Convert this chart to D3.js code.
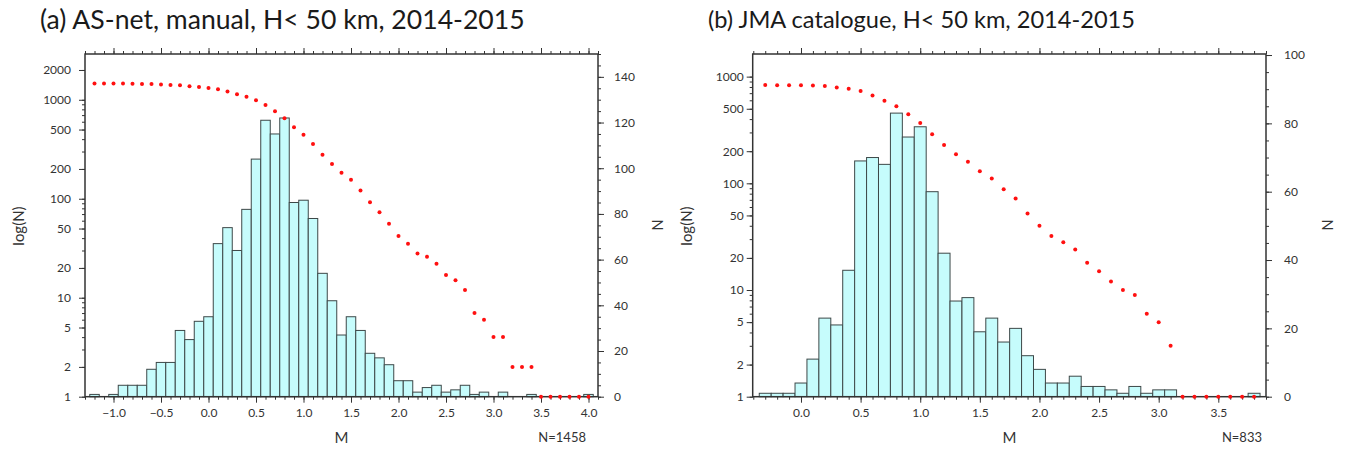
<!DOCTYPE html>
<html><head><meta charset="utf-8">
<script src="https://cdn.jsdelivr.net/npm/d3@7"></script>
<style>body{margin:0;background:#fff}text{font-family:Lato,"Open Sans",sans-serif}</style>
</head><body><svg id="c" width="1346" height="455"></svg>
<script>
// ---------- Panel (a): AS-net ----------
const binsA = [-1.2,-1.1,-1.0,-0.9,-0.8,-0.7,-0.6,-0.5,-0.4,-0.3,-0.2,-0.1,0.0,0.1,0.2,0.3,0.4,0.5,0.6,0.7,0.8,0.9,1.0,1.1,1.2,1.3,1.4,1.5,1.6,1.7,1.8,1.9,2.0,2.1,2.2,2.3,2.4,2.5,2.6,2.7,2.8,2.9,3.0,3.1,3.2,3.3,3.4,3.5,3.6,3.7,3.8,3.9,4.0];
const countsA = [1,0,1,5,5,5,12,15,15,29,25,33,35,67,74,64,82,104,121,115,122,85,86,78,54,42,27,35,29,19,17,14,7,7,2,4,5,2,3,5,1,2,0,2,0,0,1,0,0,0,0,0,1];
const cumA = [1458,1457,1457,1456,1451,1446,1441,1429,1414,1399,1370,1345,1312,1277,1210,1136,1072,990,886,765,650,528,443,357,279,225,183,156,121,92,73,56,42,35,28,26,22,17,15,12,7,6,4,4,2,2,2,1,1,1,1,1,1];
const xTicksA = [-1.0,-0.5,0.0,0.5,1.0,1.5,2.0,2.5,3.0,3.5,4.0];
const logTicksA = [1,2,5,10,20,50,100,200,500,1000,2000];
const rTicksA = [0,20,40,60,80,100,120,140];
const titleA = "(a) AS-net, manual, H< 50 km, 2014-2015";
const nLabelA = "N=1458";

// ---------- Panel (b): JMA ----------
const binsB = [-0.3,-0.2,-0.1,0.0,0.1,0.2,0.3,0.4,0.5,0.6,0.7,0.8,0.9,1.0,1.1,1.2,1.3,1.4,1.5,1.6,1.7,1.8,1.9,2.0,2.1,2.2,2.3,2.4,2.5,2.6,2.7,2.8,2.9,3.0,3.1,3.2,3.3,3.4,3.5,3.6,3.7,3.8];
const countsB = [1,1,1,4,11,23,21,37,69,70,68,83,76,79,60,42,28,29,19,23,16,20,12,8,4,4,6,3,3,2,1,3,1,2,2,0,0,0,0,0,0,1];
const cumB = [833,832,831,830,826,815,792,771,734,665,595,527,444,368,289,229,187,159,130,111,88,72,52,40,32,28,24,18,15,12,10,9,6,5,3,1,1,1,1,1,1,1];
const xTicksB = [0.0,0.5,1.0,1.5,2.0,2.5,3.0,3.5];
const logTicksB = [1,2,5,10,20,50,100,200,500,1000];
const rTicksB = [0,20,40,60,80,100];
const titleB = "(b) JMA catalogue, H< 50 km, 2014-2015";
const nLabelB = "N=833";

const svg = d3.select('#c');
const AX = '#333';

function panel(o){
  const x = d3.scaleLinear().domain(o.xDomain).range([o.left, o.right]);
  const yL = d3.scaleLog().domain(o.logDomain).range([o.bottom, o.top]);
  const yR = d3.scaleLinear().domain(o.rDomain).range([o.bottom, o.top]);
  const g = svg.append('g');

  // bars (counts, right linear axis)
  const bars = o.bins.map((m,i)=>({m, n:o.counts[i]})).filter(d=>d.n>0);
  g.selectAll('rect.bar').data(bars).join('rect')
    .attr('x', d=>x(d.m-0.05)).attr('width', d=>x(d.m+0.05)-x(d.m-0.05))
    .attr('y', d=>yR(d.n)).attr('height', d=>yR(0)-yR(d.n))
    .attr('fill','#c6fcfc').attr('stroke','#3d4848').attr('stroke-width',1);

  // minor tick values
  const xMinor = d3.range(Math.ceil(o.xDomain[0]*10-1e-6), Math.floor(o.xDomain[1]*10+1e-6)+1).map(k=>k/10);
  const logMinor = [];
  for (let p=1; p<=1000; p*=10) for (let k=1;k<10;k++){ const v=k*p; if (v>=o.logDomain[0] && v<=o.logDomain[1]) logMinor.push(v); }
  const rMinor = d3.range(o.rDomain[0], o.rDomain[1]+0.001, 5);

  function styleAxis(sel){
    sel.select('.domain').remove();
    sel.selectAll('line').attr('stroke', AX).attr('stroke-width',1);
    sel.selectAll('text').attr('fill','#333').style('font-size','12px');
  }
  // bottom
  g.append('g').attr('transform',`translate(0,${o.bottom})`)
    .call(d3.axisBottom(x).tickValues(xMinor).tickSize(3).tickFormat('')).call(styleAxis);
  g.append('g').attr('transform',`translate(0,${o.bottom})`)
    .call(d3.axisBottom(x).tickValues(o.xTicks).tickSize(6).tickPadding(6).tickFormat(d3.format('.1f'))).call(styleAxis);
  // top
  g.append('g').attr('transform',`translate(0,${o.top})`)
    .call(d3.axisTop(x).tickValues(xMinor).tickSize(3).tickFormat('')).call(styleAxis);
  g.append('g').attr('transform',`translate(0,${o.top})`)
    .call(d3.axisTop(x).tickValues(o.xTicks).tickSize(6).tickFormat('')).call(styleAxis);
  // left log
  g.append('g').attr('transform',`translate(${o.left},0)`)
    .call(d3.axisLeft(yL).tickValues(logMinor).tickSize(3).tickFormat('')).call(styleAxis);
  g.append('g').attr('transform',`translate(${o.left},0)`)
    .call(d3.axisLeft(yL).tickValues(o.logTicks).tickSize(6).tickPadding(o.lpad).tickFormat(d3.format('d'))).call(styleAxis);
  // right linear
  g.append('g').attr('transform',`translate(${o.right},0)`)
    .call(d3.axisRight(yR).tickValues(rMinor).tickSize(3).tickFormat('')).call(styleAxis);
  g.append('g').attr('transform',`translate(${o.right},0)`)
    .call(d3.axisRight(yR).tickValues(o.rTicks).tickSize(6).tickPadding(o.rpad).tickFormat(d3.format('d'))).call(styleAxis);

  // frame
  g.append('rect').attr('x',o.left).attr('y',o.top).attr('width',o.right-o.left).attr('height',o.bottom-o.top)
    .attr('fill','none').attr('stroke',AX).attr('stroke-width',1.5);

  // cumulative dots (left log axis)
  g.selectAll('circle.cum').data(o.bins.map((m,i)=>({m, c:o.cum[i]}))).join('circle')
    .attr('cx', d=>x(d.m)).attr('cy', d=>yL(d.c)).attr('r',2).attr('fill','#ff1010');

  // texts
  svg.append('text').attr('x',o.titleX).attr('y',o.titleY).text(o.title)
    .style('font-size',o.titleSize+'px').attr('fill','#1a1a1a');
  svg.append('text').attr('transform',`translate(${o.lLabX},226) rotate(-90)`).attr('text-anchor','middle')
    .text('log(N)').style('font-size','15px').attr('fill','#333');
  svg.append('text').attr('transform',`translate(${o.rLabX},225) rotate(90)`).attr('text-anchor','middle')
    .text('N').style('font-size','15px').attr('fill','#333');
  svg.append('text').attr('x',(o.left+o.right)/2).attr('y',443).attr('text-anchor','middle')
    .text('M').style('font-size','15px').attr('fill','#333');
  svg.append('text').attr('x',o.nX).attr('y',442).attr('text-anchor','end')
    .text(o.nLabel).style('font-size','13px').attr('fill','#333');
}

panel({left:85, right:598, top:54, bottom:396.7, xDomain:[-1.3,4.1], logDomain:[1,2900], rDomain:[0,150],
  bins:binsA, counts:countsA, cum:cumA, xTicks:xTicksA, logTicks:logTicksA, rTicks:rTicksA,
  title:titleA, titleX:40, titleY:29, titleSize:26.6, lLabX:24, rLabX:652, nX:586, nLabel:nLabelA, lpad:8, rpad:10});
panel({left:752.7, right:1266, top:54, bottom:396.7, xDomain:[-0.405,3.9], logDomain:[1,1630], rDomain:[0,100.3],
  bins:binsB, counts:countsB, cum:cumB, xTicks:xTicksB, logTicks:logTicksB, rTicks:rTicksB,
  title:titleB, titleX:708, titleY:28, titleSize:23.6, lLabX:692, rLabX:1322, nX:1262, nLabel:nLabelB, lpad:3, rpad:12});
</script></body></html>
